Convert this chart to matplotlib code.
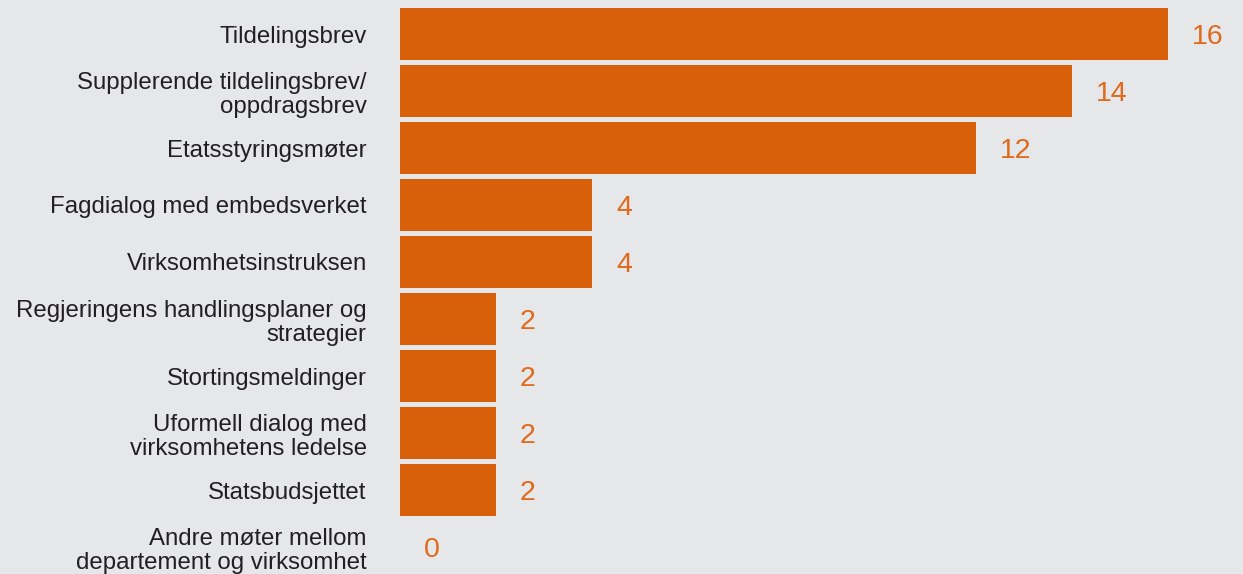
import matplotlib.pyplot as plt
import numpy as np

categories = [
    "Tildelingsbrev",
    "Supplerende tildelingsbrev/\noppdragsbrev",
    "Etatsstyringsmøter",
    "Fagdialog med embedsverket",
    "Virksomhetsinstruksen",
    "Regjeringens handlingsplaner og\nstrategier",
    "Stortingsmeldinger",
    "Uformell dialog med\nvirksomhetens ledelse",
    "Statsbudsjettet",
    "Andre møter mellom\ndepartement og virksomhet",
]
values = [16, 14, 12, 4, 4, 2, 2, 2, 2, 0]

bg = "#e6e7e9"
bar_color = "#d9600a"
num_color = "#e0691c"

plt.rcParams['font.family'] = ['Liberation Sans', 'DejaVu Sans']

fig = plt.figure(figsize=(12.43, 5.74), dpi=100, facecolor=bg)
left = 400 / 1243
ax = fig.add_axes([left, 0, 1 - left, 1], facecolor=bg)

y = np.arange(len(categories))
ax.barh(y, values, height=0.91, color=bar_color)

# value labels a little right of bar end
for yi, v in zip(y, values):
    ax.text(v + 0.5, yi + 0.05, str(v), color=num_color, fontsize=20.5,
            va='center', ha='left')

ax.set_xlim(0, (1243 - 400) / 48)
ax.set_ylim(9 + 27 / 57, -34 / 57)
ax.set_yticks(y)
ax.set_yticklabels(categories, fontsize=17.3, color="#231f20", linespacing=1.15)
ax.tick_params(axis='y', length=0, pad=24)
ax.set_xticks([])
for s in ax.spines.values():
    s.set_visible(False)

fig.savefig("out.png", dpi=100, facecolor=bg)
